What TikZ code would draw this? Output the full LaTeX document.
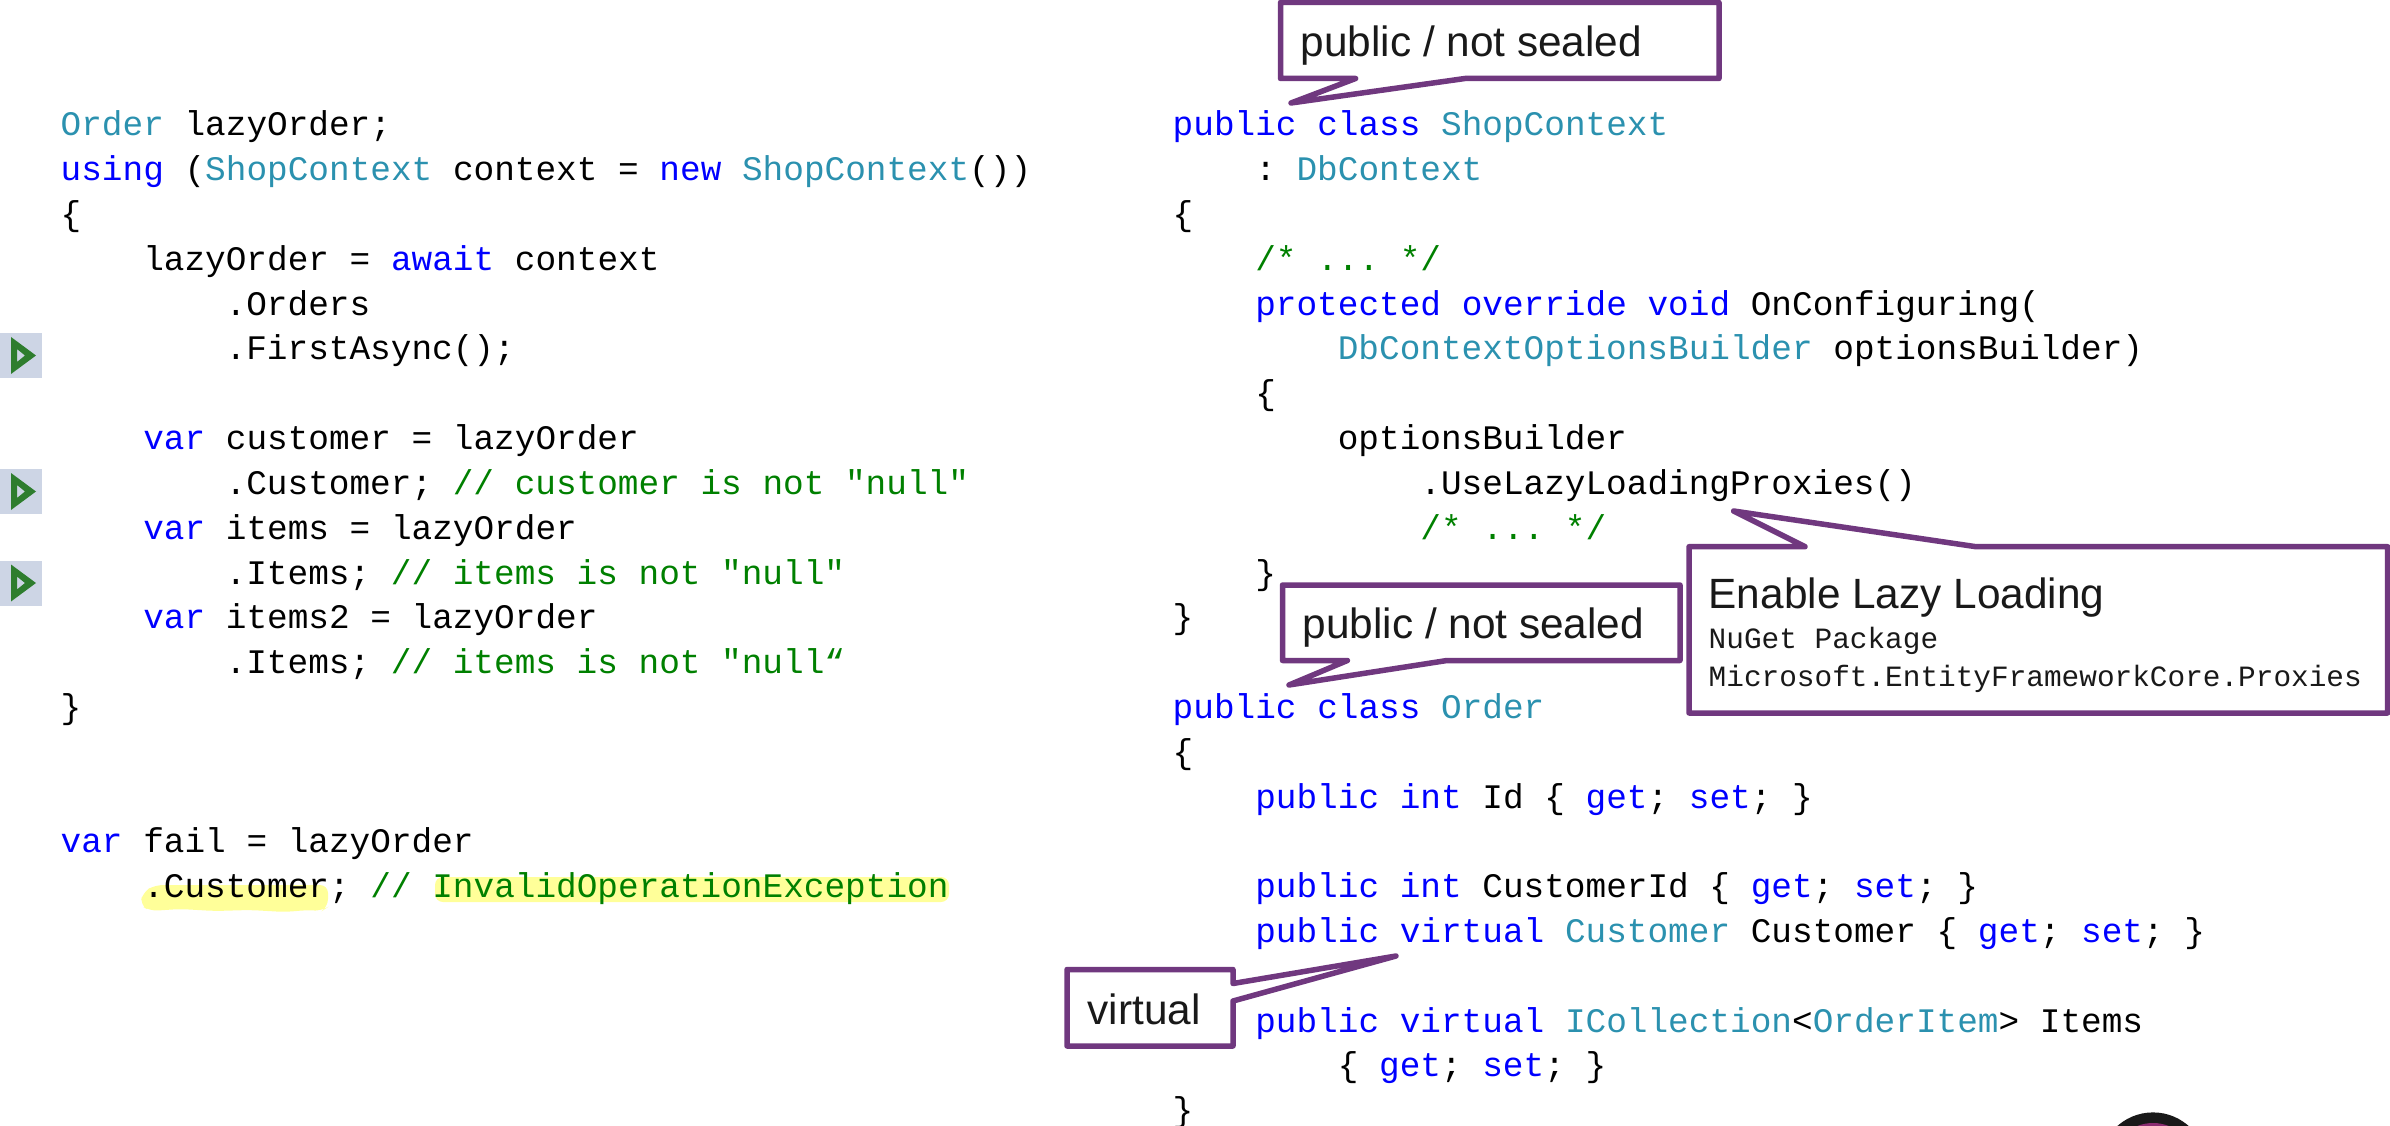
\documentclass[tikz,border=0pt]{standalone}
\usepackage{fontspec}
\usepackage{xcolor}
\setmainfont{Liberation Sans}
\setmonofont{Liberation Mono}
\definecolor{kwblue}{HTML}{0000FF}
\definecolor{tyteal}{HTML}{2B91AF}
\definecolor{cmgreen}{HTML}{008000}
\definecolor{notepurple}{HTML}{70387F}
\definecolor{marker}{HTML}{FFFF99}
\definecolor{gutter}{HTML}{CDD5E5}
\definecolor{rungreen}{HTML}{2E7D2E}
\definecolor{badgeplum}{HTML}{8A2C70}
\newcommand{\kw}[1]{\textcolor{kwblue}{#1}}
\newcommand{\ty}[1]{\textcolor{tyteal}{#1}}
\newcommand{\cm}[1]{\textcolor{cmgreen}{#1}}
\tikzset{
  codeline/.style={anchor=base west,inner sep=0pt,font=\fontsize{9.79}{11}\selectfont\ttfamily},
  pkgline/.style={anchor=base west,inner sep=0pt,text=black!90,font=\fontsize{8.37}{10}\selectfont\ttfamily},
  notetext/.style={anchor=base west,inner sep=0pt,text=black!90,font=\fontsize{12.05}{14}\selectfont},
  note/.style={draw=notepurple,fill=white,line width=0.055cm,line join=round},
  runmark/.style={fill=rungreen,even odd rule}
}
\newcommand{\runicon}[1]{%
  \fill[gutter] (0,#1-0.225) rectangle (0.42,#1+0.225);
  \fill[runmark] (0.11,#1+0.185) -- (0.36,#1) -- (0.11,#1-0.185) -- cycle
    (0.17,#1+0.065) -- (0.25,#1) -- (0.17,#1-0.065) -- cycle;
}

\begin{document}
\begin{tikzpicture}
\useasboundingbox (0,0) rectangle (23.9,11.25);

% Gutter marks
\runicon{7.695}
\runicon{6.335}
\runicon{5.42}

% Yellow marker behind the failing line
\fill[marker,rounded corners=0.08cm] (1.40,2.20) -- (1.43,2.33) -- (1.55,2.40) -- (3.28,2.40)
  -- (3.28,2.18) -- (3.22,2.14) -- (3.08,2.15) -- (2.85,2.13) -- (2.50,2.15) -- (2.15,2.14)
  -- (1.80,2.16) -- (1.50,2.14) -- cycle;
\fill[marker,rounded corners=0.08cm] (4.35,2.23) rectangle (9.49,2.48);

% Left code
\node[codeline] (uOrder) at (0.60,9.89) {\ty{Order} lazyOrder;};
\node[codeline] (uUsing) at (0.60,9.442) {\kw{using} (\ty{ShopContext} context = \kw{new} \ty{ShopContext}())};
\node[codeline] (uOpen) at (0.60,8.994) {\{};
\node[codeline] (uAwait) at (1.4256,8.546) {lazyOrder = \kw{await} context};
\node[codeline] (uOrders) at (2.25,8.098) {.Orders};
\node[codeline] (uFirst) at (2.25,7.65) {.FirstAsync();};
\node[codeline] (uCust) at (1.4256,6.754) {\kw{var} customer = lazyOrder};
\node[codeline] (uCustB) at (2.25,6.306) {.Customer; \cm{// customer is not "null"}};
\node[codeline] (uItems) at (1.4256,5.858) {\kw{var} items = lazyOrder};
\node[codeline] (uItemsB) at (2.25,5.41) {.Items; \cm{// items is not "null"}};
\node[codeline] (uItemsC) at (1.4256,4.962) {\kw{var} items2 = lazyOrder};
\node[codeline] (uItemsD) at (2.25,4.514) {.Items; \cm{// items is not "null“}};
\node[codeline] (uClose) at (0.60,4.066) {\}};
\node[codeline] (uFail) at (0.60,2.722) {\kw{var} fail = lazyOrder};
\node[codeline] (uFailB) at (1.4256,2.274) {.Customer; \cm{// InvalidOperationException}};

% ShopContext code
\node[codeline] (sClass) at (11.72,9.89) {\kw{public} \kw{class} \ty{ShopContext}};
\node[codeline] (sBase) at (12.5456,9.442) {: \ty{DbContext}};
\node[codeline] (sOpen) at (11.72,8.994) {\{};
\node[codeline] (sDots) at (12.5456,8.546) {\cm{/* ... */}};
\node[codeline] (sOver) at (12.5456,8.098) {\kw{protected} \kw{override} \kw{void} OnConfiguring(};
\node[codeline] (sArg) at (13.371,7.65) {\ty{DbContextOptionsBuilder} optionsBuilder)};
\node[codeline] (sBody) at (12.5456,7.202) {\{};
\node[codeline] (sBuilder) at (13.371,6.754) {optionsBuilder};
\node[codeline] (sProxies) at (14.197,6.306) {.UseLazyLoadingProxies()};
\node[codeline] (sDotsB) at (14.197,5.858) {\cm{/* ... */}};
\node[codeline] (sBodyEnd) at (12.5456,5.41) {\}};
\node[codeline] (sClose) at (11.72,4.962) {\}};

% Order code
\node[codeline] (oClass) at (11.72,4.066) {\kw{public} \kw{class} \ty{Order}};
\node[codeline] (oOpen) at (11.72,3.618) {\{};
\node[codeline] (oId) at (12.5456,3.17) {\kw{public} \kw{int} Id \{ \kw{get}; \kw{set}; \}};
\node[codeline] (oCustId) at (12.5456,2.274) {\kw{public} \kw{int} CustomerId \{ \kw{get}; \kw{set}; \}};
\node[codeline] (oCust) at (12.5456,1.826) {\kw{public} \kw{virtual} \ty{Customer} Customer \{ \kw{get}; \kw{set}; \}};
\node[codeline] (oItems) at (12.5456,0.93) {\kw{public} \kw{virtual} \ty{ICollection}<\ty{OrderItem}> Items};
\node[codeline] (oItemsB) at (13.371,0.482) {\{ \kw{get}; \kw{set}; \}};
\node[codeline] (oClose) at (11.72,0.034) {\}};

% Callouts
\draw[note] (12.805,11.225) -- (17.19,11.225) -- (17.19,10.465) -- (14.65,10.465)
  -- (12.91,10.22) -- (13.556,10.465) -- (12.805,10.465) -- cycle;
\node[notetext] (noteShop) at (13.00,10.686) {public / not sealed};

\draw[note] (12.825,5.40) -- (16.80,5.40) -- (16.80,4.645) -- (14.47,4.645)
  -- (12.89,4.40) -- (13.474,4.645) -- (12.825,4.645) -- cycle;
\node[notetext] (noteOrder) at (13.02,4.87) {public / not sealed};

\draw[note] (16.89,5.783) -- (18.05,5.783) -- (17.336,6.14) -- (19.76,5.783)
  -- (23.876,5.783) -- (23.876,4.12) -- (16.89,4.12) -- cycle;
\node[notetext] (noteLazy) at (17.08,5.17) {Enable Lazy Loading};
\node[pkgline] (notePkg) at (17.08,4.77) {NuGet Package};
\node[pkgline] (notePkgB) at (17.08,4.39) {Microsoft.EntityFrameworkCore.Proxies};

\draw[note] (10.67,1.555) -- (12.33,1.555) -- (12.33,1.415) -- (13.96,1.69)
  -- (12.33,1.24) -- (12.33,0.79) -- (10.67,0.79) -- cycle;
\node[notetext] (noteVirtual) at (10.87,1.005) {virtual};

% Presenter badge at the lower edge
\fill[black!90] (21.53,-0.41) circle (0.536);
\fill[badgeplum] (21.53,-0.41) circle (0.43);
\end{tikzpicture}
\end{document}
